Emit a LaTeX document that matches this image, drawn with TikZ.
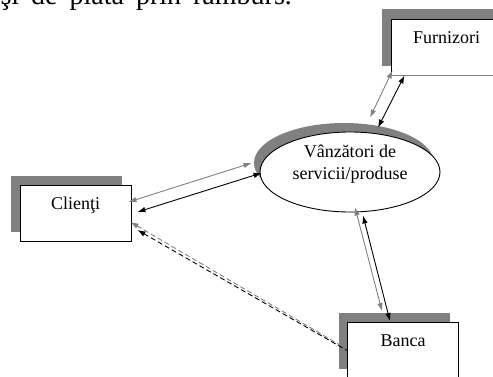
\documentclass[tikz,border=0pt]{standalone}
\usepackage{fontspec}
\setmainfont{Liberation Serif}
\usetikzlibrary{arrows.meta,calc,shapes,shadows}
\definecolor{shd}{HTML}{808080}

\begin{document}
\begin{tikzpicture}[x=1pt, y=1pt,
    box/.style={shape=rectangle, draw, line width=0.9pt, fill=white, minimum width=111pt,
      inner ysep=0pt, text height=24pt, text depth=32pt, font=\fontsize{18}{22}\selectfont,
      drop shadow={shadow xshift=-9pt, shadow yshift=9.5pt, fill=shd, opacity=1}},
    el/.style={shape=ellipse, draw, line width=0.9pt, fill=white, minimum width=180pt,
      minimum height=80pt, inner sep=0pt,
      drop shadow={shadow xshift=-6pt, shadow yshift=9pt, fill=shd, opacity=1}},
    ln/.style={line width=0.9pt, {Latex[length=8pt,width=5.5pt]}-{Latex[length=8pt,width=5.5pt]}},
    dsh/.style={line width=0.9pt, dash pattern=on 5pt off 3pt, {Latex[length=8pt,width=5.5pt]}-},]
    \useasboundingbox (0,0) rectangle (493,376);
    \clip (0,0) rectangle (493,376);
    \node [anchor=base west, font=\fontsize{28}{30}\selectfont] (txt) at (-3,371)
      {\spaceskip=12pt şi de plată prin ramburs.};
    \node [box] (furn) at (446.5,329) {Furnizori};
    \node [box] (clie) at (75.5,163) {Clienţi};
    \node [box] (banca) at (403,25.5) {Banca};
    \node [el, label={[align=center, yshift=8pt, font=\fontsize{18}{22}\selectfont]center:Vânzători de\\servicii/produse}] (vanz) at (350,204) {};
    \draw [shd, line width=0.9pt] (furn.south west) -- (furn.south east);
    \draw [ln, shd] ($(furn.south west)+(2,5)$) -- ($(vanz.north)+(20,14)$);
    \draw [ln] ($(furn.south west)+(14,0)$) -- ($(vanz.north)+(28,4)$);
    \draw [ln, shd] ($(clie.east)+(-3,11)$) -- ($(vanz.west)+(-8,9)$);
    \draw [ln] ($(clie.east)+(6,1)$) -- ($(vanz.west)+(2,-1)$);
    \draw [ln, shd] ($(vanz.south)+(5,5)$) -- ($(banca.north)+(-21,11)$);
    \draw [ln] ($(vanz.south)+(13,-3)$) -- ($(banca.north)+(-13,1)$);
    \draw [dsh, shd] ($(clie.east)+(-1,-9)$) -- ($(banca.west)+(-8,6)$);
    \draw [dsh] ($(clie.east)+(6,-17)$) -- (banca.west);
  \end{tikzpicture}
\end{document}
